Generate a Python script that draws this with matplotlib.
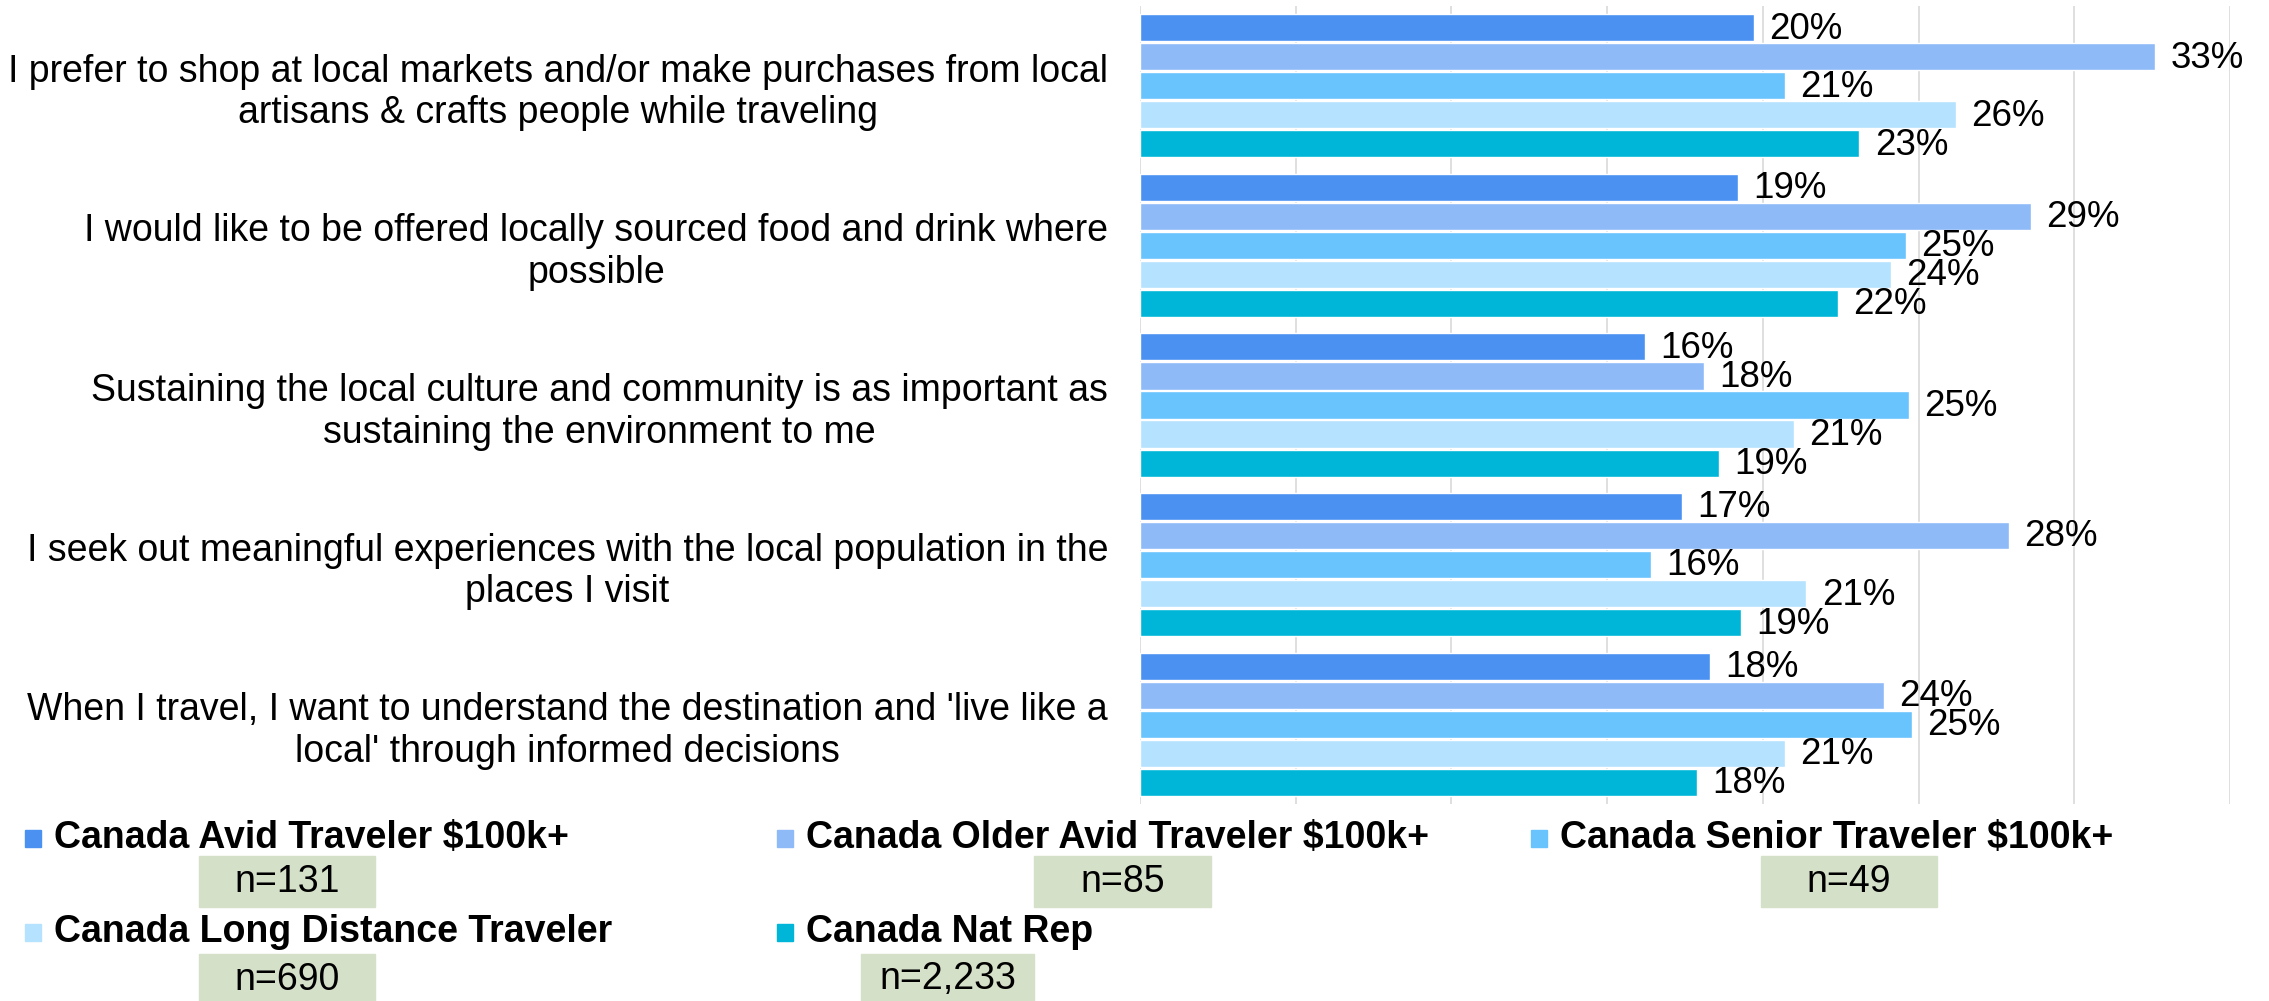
import matplotlib.pyplot as plt
from matplotlib.patches import Rectangle
import numpy as np

plt.rcParams['font.family'] = ['Liberation Sans', 'DejaVu Sans']

# statements (top to bottom)
statements = [
    "I prefer to shop at local markets and/or make purchases from local\nartisans & crafts people while traveling",
    "I would like to be offered locally sourced food and drink where\npossible",
    "Sustaining the local culture and community is as important as\nsustaining the environment to me",
    "I seek out meaningful experiences with the local population in the\nplaces I visit",
    "When I travel, I want to understand the destination and 'live like a\nlocal' through informed decisions",
]

series_names = [
    "Canada Avid Traveler $100k+",
    "Canada Older Avid Traveler $100k+",
    "Canada Senior Traveler $100k+",
    "Canada Long Distance Traveler",
    "Canada Nat Rep",
]
sample_sizes = ["n=131", "n=85", "n=49", "n=690", "n=2,233"]

avid = [19.7, 19.2, 16.2, 17.4, 18.3]
older_avid = [32.6, 28.6, 18.1, 27.9, 23.9]
senior = [20.7, 24.6, 24.7, 16.4, 24.8]
long_distance = [26.2, 24.1, 21.0, 21.4, 20.7]
nat_rep = [23.1, 22.4, 18.6, 19.3, 17.9]

series = [avid, older_avid, senior, long_distance, nat_rep]
colors = ["#4A91F2", "#8FBAF8", "#69C3FD", "#B5E2FE", "#00B6D8"]

fig = plt.figure(figsize=(22.69, 10.01), dpi=100)
ax = fig.add_axes([1140 / 2269, 1 - 804 / 1001, (2230 - 1140) / 2269, 798 / 1001])

y = np.arange(len(statements))
pitch = 0.182
for k, (vals, col) in enumerate(zip(series, colors)):
    pos = y + (k - 2) * pitch
    ax.barh(pos, vals, height=0.17, color=col, edgecolor='white', linewidth=1, zorder=2)
    for p, v in zip(pos, vals):
        ax.annotate(f"{v:.0f}%", (v, p), xytext=(11, -1), textcoords='offset points',
                    va='center', ha='left', fontsize=26.5, color='black')

ax.set_xlim(0, 35)
ax.set_ylim(4.5, -0.5)
ax.set_xticks(np.arange(0, 36, 5))
ax.set_xticklabels([])
ax.grid(axis='x', color='#d9d9d9', linewidth=1.2, zorder=0)
ax.set_axisbelow(True)
ax.tick_params(axis='both', length=0)
ax.tick_params(axis='y', pad=23)
ax.set_yticks(y)
ax.set_yticklabels(statements, fontsize=27)
for lab in ax.get_yticklabels():
    lab.set_multialignment('center')
for s in ax.spines.values():
    s.set_visible(False)

# legend with sample size boxes
W, H = 2269, 1001
leg_x = [54, 806, 1560, 54, 806]
leg_y = [838, 838, 838, 932, 932]
box_x = [(199, 375), (1034, 1211), (1761, 1937), (199, 375), (861, 1034)]
box_y = [(856, 907), (856, 907), (856, 907), (954, 1005), (954, 1005)]
for i, name in enumerate(series_names):
    fig.patches.append(Rectangle(((leg_x[i] - 29) / W, 1 - (leg_y[i] + 9) / H), 16 / W, 17 / H,
                                 transform=fig.transFigure, color=colors[i]))
    fig.text(leg_x[i] / W, 1 - leg_y[i] / H, name, fontsize=27, fontweight='bold',
             va='center', ha='left')
    x0, x1 = box_x[i]
    y0, y1 = box_y[i]
    fig.patches.append(Rectangle((x0 / W, 1 - y1 / H), (x1 - x0) / W, (y1 - y0) / H,
                                 transform=fig.transFigure, color='#D5E0C9'))
    fig.text((x0 + x1) / 2 / W, 1 - (y0 + y1) / 2 / H, sample_sizes[i], fontsize=27,
             va='center', ha='center')

fig.savefig('out.png', dpi=100)
